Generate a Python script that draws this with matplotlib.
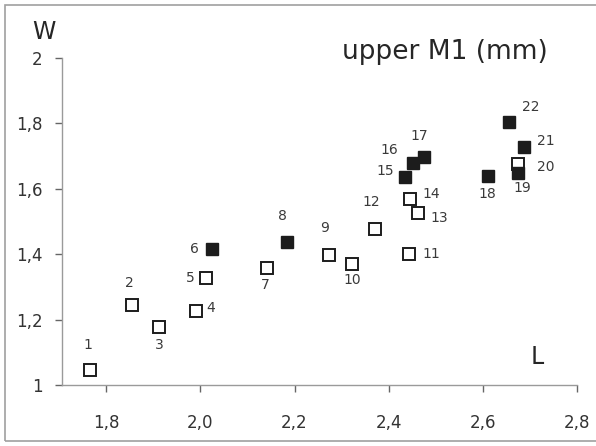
import matplotlib
matplotlib.use("Agg")
import matplotlib.pyplot as plt
from matplotlib.patches import Rectangle

# ---- data ----
ids = [str(i) for i in range(1, 23)]
L = [1.766, 1.855, 1.911, 1.991, 2.012, 2.025, 2.142, 2.184, 2.274, 2.323, 2.443,
     2.371, 2.463, 2.445, 2.434, 2.452, 2.474, 2.610, 2.675, 2.675, 2.688, 2.656]
W = [1.046, 1.245, 1.178, 1.227, 1.326, 1.416, 1.359, 1.436, 1.398, 1.369, 1.400,
     1.477, 1.527, 1.568, 1.635, 1.678, 1.696, 1.639, 1.647, 1.676, 1.727, 1.805]
filled = [False, False, False, False, False, True, False, True, False, False, False,
          False, False, False, True, True, True, True, True, False, True, True]
xticks = [1.8, 2.0, 2.2, 2.4, 2.6, 2.8]
xticklabels = ["1,8", "2,0", "2,2", "2,4", "2,6", "2,8"]
yticks = [1.0, 1.2, 1.4, 1.6, 1.8, 2.0]
yticklabels = ["1", "1,2", "1,4", "1,6", "1,8", "2"]
title = "upper M1 (mm)"

# label offsets in pixels (dx right, dy up)
label_offsets = {
    "1": (-2, 25), "2": (-3, 22), "3": (1, -18), "4": (15, 3), "5": (-16, 0),
    "6": (-18, 0), "7": (-2, -17), "8": (-5, 26), "9": (-5, 27), "10": (0, -16),
    "11": (22, 0), "12": (-4, 27), "13": (21, -5), "14": (21, 5), "15": (-19, 6),
    "16": (-24, 13), "17": (-4, 21), "18": (0, -18), "19": (4, -15), "20": (28, -3),
    "21": (22, 6), "22": (22, 15),
}

fig = plt.figure(figsize=(5.96, 4.46), dpi=100)
fig.patch.set_facecolor("white")
fig.patches.append(Rectangle((5 / 596, 5 / 446), 1.0, 1 - 10 / 446,
                             transform=fig.transFigure, fill=False,
                             edgecolor="#a0a0a0", linewidth=1.2))

ax = fig.add_axes([62 / 596, 1 - 385 / 446, (577 - 62) / 596, (385 - 58) / 446])
ax.set_xlim(1.706, 2.8)
ax.set_ylim(1.0, 2.0)

ink = "#1c1c1c"
for i in range(len(ids)):
    if filled[i]:
        ax.plot(L[i], W[i], marker="s", markersize=8.5, markerfacecolor=ink,
                markeredgecolor=ink, markeredgewidth=1.0, linestyle="none",
                zorder=4, clip_on=False)
    else:
        ax.plot(L[i], W[i], marker="s", markersize=8.0, markerfacecolor="white",
                markeredgecolor=ink, markeredgewidth=1.4, linestyle="none",
                zorder=3, clip_on=False)
    dx, dy = label_offsets[ids[i]]
    ax.annotate(ids[i], (L[i], W[i]), xytext=(dx, dy), textcoords="offset pixels",
                ha="center", va="center", fontsize=10, color="#3a3a3a")

for s in ["top", "right"]:
    ax.spines[s].set_visible(False)
ax.spines["left"].set_color("#9a9a9a")
ax.spines["bottom"].set_color("#9a9a9a")
ax.spines["left"].set_linewidth(1.0)
ax.spines["bottom"].set_linewidth(1.0)

ax.set_xticks(xticks)
ax.set_xticklabels(xticklabels)
ax.set_yticks(yticks)
ax.set_yticklabels(yticklabels)
ax.tick_params(axis="x", direction="out", length=5, width=1.0, color="#666666",
               pad=16, labelsize=12, labelcolor="#333333")
ax.tick_params(axis="y", direction="out", length=5, width=1.0, color="#666666",
               pad=9, labelsize=12, labelcolor="#333333")

fig.text(445 / 596, 1 - 52 / 446, title, ha="center", va="center",
         fontsize=19, color="#262626")
fig.text(44 / 596, 1 - 32 / 446, "W", ha="center", va="center",
         fontsize=17, color="#262626")
fig.text(537 / 596, 1 - 357 / 446, "L", ha="center", va="center",
         fontsize=17, color="#262626")

fig.savefig("out.png", dpi=100, facecolor="white")
